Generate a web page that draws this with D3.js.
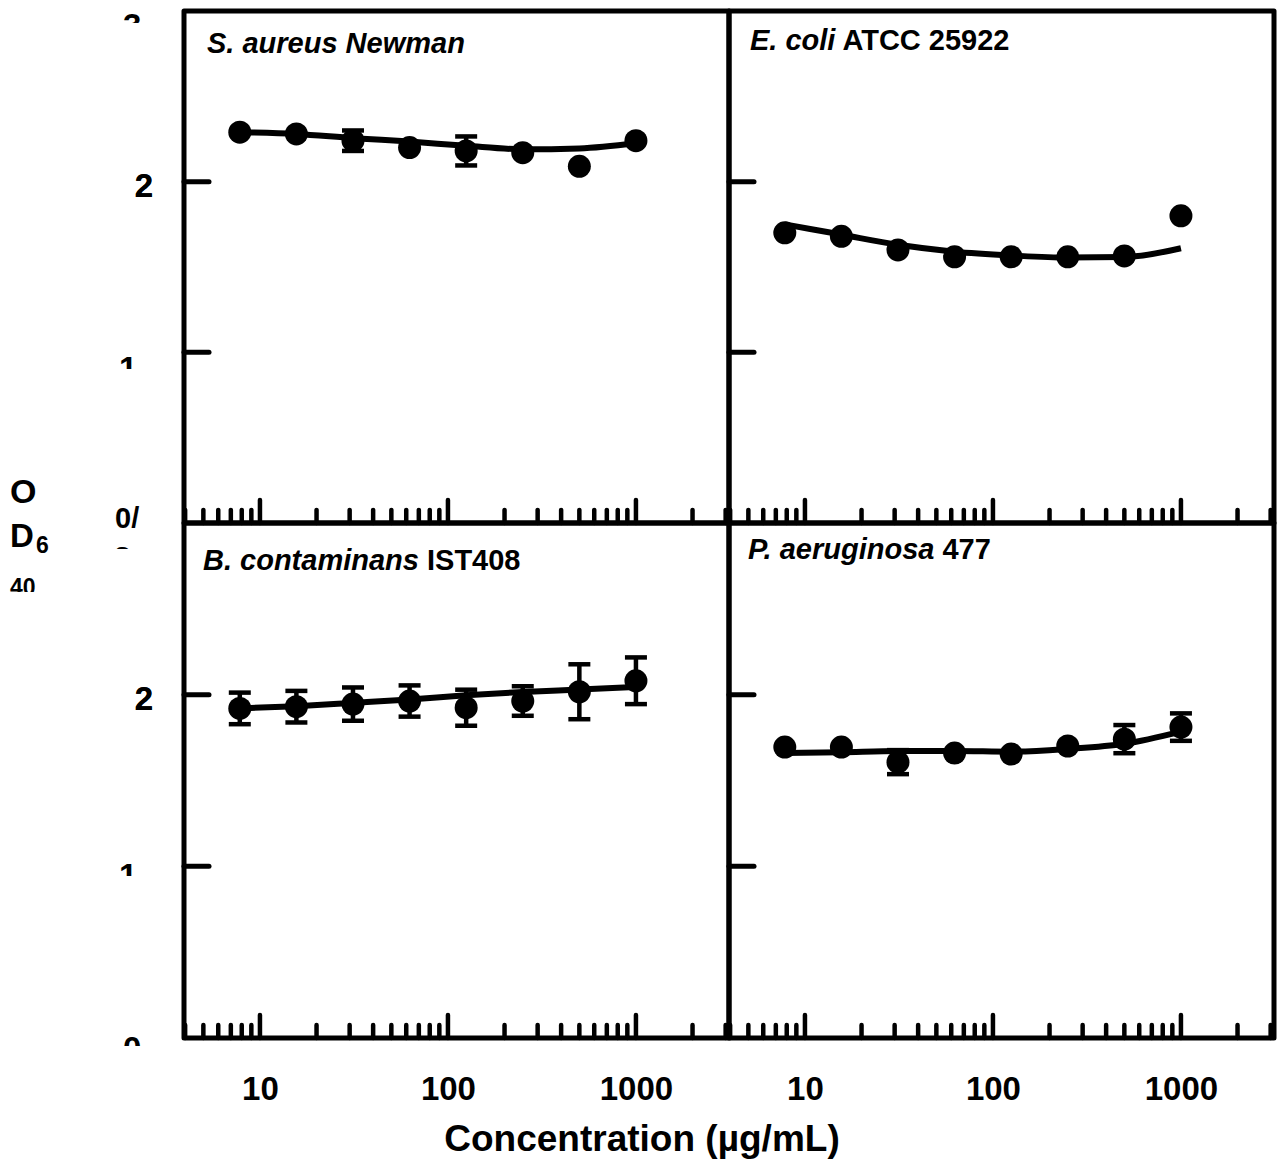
<!DOCTYPE html>
<html>
<head>
<meta charset="utf-8">
<script src="https://cdn.jsdelivr.net/npm/d3@7"></script>
<style>
  body { margin: 0; background: #fff; }
  text { font-family: "Liberation Sans", Arial, sans-serif; font-weight: bold; fill: #000; }
</style>
</head>
<body>
<script>
// size of the page
var w = 1279;
var h = 1159;

// concentrations (ug/mL), two-fold dilutions
var conc = [7.8125, 15.625, 31.25, 62.5, 125, 250, 500, 1000];

// OD640 per strain (points, error, fitted curve)
var saureusOD  = [2.29, 2.28, 2.24, 2.20, 2.18, 2.17, 2.09, 2.24];
var saureusErr = [0, 0, 0.06, 0, 0.085, 0, 0, 0];
var saureusFit = [2.29, 2.28, 2.255, 2.235, 2.21, 2.19, 2.195, 2.225];

var ecoliOD  = [1.70, 1.68, 1.60, 1.56, 1.56, 1.56, 1.565, 1.80];
var ecoliErr = [0, 0, 0, 0, 0, 0, 0, 0];
var ecoliFit = [1.75, 1.69, 1.63, 1.59, 1.568, 1.555, 1.558, 1.61];

var bcontOD  = [1.92, 1.93, 1.945, 1.963, 1.924, 1.963, 2.017, 2.081];
var bcontErr = [0.092, 0.092, 0.097, 0.091, 0.105, 0.086, 0.16, 0.136];
var bcontFit = [1.92, 1.933, 1.952, 1.972, 1.997, 2.016, 2.03, 2.045];

var paerOD  = [1.695, 1.695, 1.607, 1.66, 1.654, 1.701, 1.741, 1.811];
var paerErr = [0, 0, 0.07, 0, 0, 0, 0.082, 0.08];
var paerFit = [1.66, 1.665, 1.672, 1.672, 1.668, 1.684, 1.714, 1.785];

// panel titles: [italic part, upright part]
var titles = [
  ["S. aureus Newman", ""],
  ["E. coli", " ATCC 25922"],
  ["B. contaminans", " IST408"],
  ["P. aeruginosa", " 477"]
];

var xLabels = [10, 100, 1000];
var yTicks = [1, 2];

var svg = d3.select("body")
  .append("svg")
  .attr("width", w)
  .attr("height", h);
var defs = svg.append("defs");

var panels = [
  {t: titles[0], od: saureusOD, err: saureusErr, fit: saureusFit, x0: 184, x1: 729, y0: 11,  y1: 523,  tx: 207, ty: 53},
  {t: titles[1], od: ecoliOD,   err: ecoliErr,   fit: ecoliFit,   x0: 729, x1: 1274, y0: 11,  y1: 523,  tx: 750, ty: 50},
  {t: titles[2], od: bcontOD,   err: bcontErr,   fit: bcontFit,   x0: 184, x1: 729, y0: 523, y1: 1038, tx: 203, ty: 570},
  {t: titles[3], od: paerOD,    err: paerErr,    fit: paerFit,    x0: 729, x1: 1274, y0: 523, y1: 1038, tx: 748, ty: 559}
];

var lo = Math.pow(10, 0.596), hi = Math.pow(10, 3.495);

panels.forEach(function(p, i) {
  var x = d3.scaleLog().domain([lo, hi]).range([p.x0, p.x1]);
  var y = d3.scaleLinear().domain([0, 3]).range([p.y1, p.y0]);
  var g = svg.append("g");

  // frame
  g.append("rect")
    .attr("x", p.x0).attr("y", p.y0)
    .attr("width", p.x1 - p.x0).attr("height", p.y1 - p.y0)
    .attr("fill", "none").attr("stroke", "#000").attr("stroke-width", 5)
    .attr("stroke-linejoin", "round");

  // log ticks pointing up from the bottom edge
  g.selectAll(".xt")
    .data(x.ticks())
    .enter().append("line")
    .attr("x1", function(d) { return x(d); })
    .attr("x2", function(d) { return x(d); })
    .attr("y1", p.y1)
    .attr("y2", function(d) { return Math.abs(Math.log10(d) % 1) < 1e-9 ? p.y1 - 23 : p.y1 - 13; })
    .attr("stroke", "#000").attr("stroke-width", 4.5).attr("stroke-linecap", "round");

  // y ticks
  g.selectAll(".yt")
    .data(yTicks)
    .enter().append("line")
    .attr("x1", p.x0).attr("x2", p.x0 + 25)
    .attr("y1", function(d) { return y(d); })
    .attr("y2", function(d) { return y(d); })
    .attr("stroke", "#000").attr("stroke-width", 5).attr("stroke-linecap", "round");

  // fitted curve
  var line = d3.line()
    .x(function(d, j) { return x(conc[j]); })
    .y(function(d) { return y(d); })
    .curve(d3.curveMonotoneX);
  g.append("path")
    .attr("d", line(p.fit))
    .attr("fill", "none").attr("stroke", "#000").attr("stroke-width", 6);

  // error bars
  var eb = g.selectAll(".eb")
    .data(conc.map(function(c, j) { return {c: c, v: p.od[j], e: p.err[j]}; }).filter(function(d) { return d.e > 0; }))
    .enter().append("g");
  eb.append("line")
    .attr("x1", function(d) { return x(d.c); }).attr("x2", function(d) { return x(d.c); })
    .attr("y1", function(d) { return y(d.v - d.e); }).attr("y2", function(d) { return y(d.v + d.e); })
    .attr("stroke", "#000").attr("stroke-width", 4.5);
  [-1, 1].forEach(function(s) {
    eb.append("line")
      .attr("x1", function(d) { return x(d.c) - 11; }).attr("x2", function(d) { return x(d.c) + 11; })
      .attr("y1", function(d) { return y(d.v + s * d.e); }).attr("y2", function(d) { return y(d.v + s * d.e); })
      .attr("stroke", "#000").attr("stroke-width", 4.5);
  });

  // points
  g.selectAll(".pt")
    .data(p.od)
    .enter().append("circle")
    .attr("cx", function(d, j) { return x(conc[j]); })
    .attr("cy", function(d) { return y(d); })
    .attr("r", 11.5)
    .attr("fill", "#000");

  // title
  var t = g.append("text").attr("x", p.tx).attr("y", p.ty).attr("font-size", 29);
  t.append("tspan").attr("font-style", "italic").text(p.t[0]);
  if (p.t[1]) t.append("tspan").text(p.t[1]);

  // y label "2"
  g.append("text")
    .attr("x", 153).attr("y", y(2) + 15)
    .attr("text-anchor", "end").attr("font-size", 33)
    .text("2");

  // x tick labels under the bottom row
  if (p.y1 > 600) {
    var ax = g.append("g")
      .attr("transform", "translate(0," + (p.y1 + 62) + ")")
      .call(d3.axisBottom(x).tickValues(xLabels).tickSize(0).tickFormat(d3.format("d")));
    ax.select(".domain").remove();
    ax.selectAll("text")
      .attr("dy", 0).attr("y", 0)
      .attr("font-size", 33)
      .style("font-family", "'Liberation Sans', Arial, sans-serif")
      .style("font-weight", "bold");
  }
});

// clipped texts (cut off in the original figure)
function cutText(id, str, tx, ty, size, cx, cy, cw, ch) {
  defs.append("clipPath").attr("id", id)
    .append("rect").attr("x", cx).attr("y", cy).attr("width", cw).attr("height", ch);
  return svg.append("text")
    .attr("x", tx).attr("y", ty)
    .attr("font-size", size)
    .attr("clip-path", "url(#" + id + ")")
    .text(str);
}

cutText("c3", "3", 123, 37, 33, 100, 0, 60, 23);
cutText("c1a", "1", 119, 380, 33, 100, 340, 60, 29);
cutText("c1b", "1", 119, 887, 33, 100, 850, 60, 26);
cutText("c0b", "0", 123, 1060, 33, 100, 1020, 60, 26);
cutText("c3b", "3", 114, 567, 30, 100, 535, 60, 14);
cutText("c40", "40", 10, 595, 23, 0, 570, 60, 22);

svg.append("text").attr("x", 115).attr("y", 528).attr("font-size", 29).text("0/");

// y axis title pieces
svg.append("text").attr("x", 10).attr("y", 503).attr("font-size", 34).text("O");
svg.append("text").attr("x", 10).attr("y", 547).attr("font-size", 33).text("D");
svg.append("text").attr("x", 36).attr("y", 553).attr("font-size", 23).text("6");

// x axis title
svg.append("text")
  .attr("x", 642).attr("y", 1151)
  .attr("text-anchor", "middle")
  .attr("font-size", 37)
  .text("Concentration (\u00b5g/mL)");
</script>
</body>
</html>
